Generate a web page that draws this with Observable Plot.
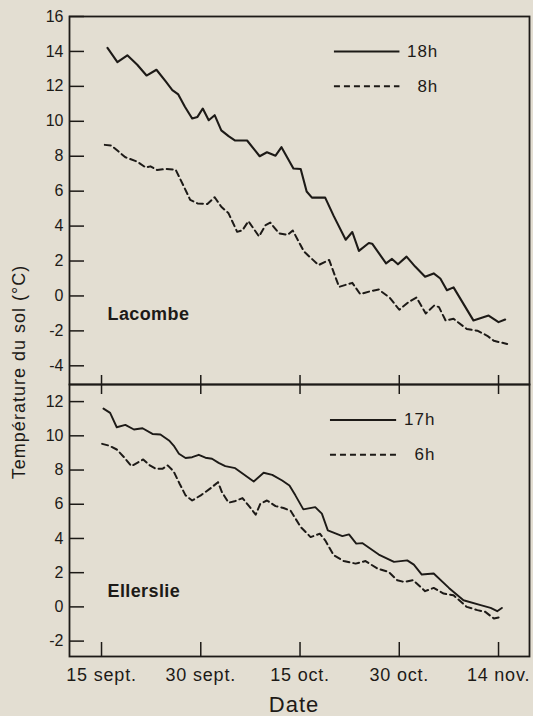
<!DOCTYPE html>
<html>
<head>
<meta charset="utf-8">
<script src="https://cdn.jsdelivr.net/npm/d3@7"></script>
<script src="https://cdn.jsdelivr.net/npm/@observablehq/plot@0.6"></script>
<style>
  html, body { margin: 0; padding: 0; background: #e3ded2; }
  #wrap { position: relative; width: 533px; height: 716px; background: #e3ded2; overflow: hidden;
          font-family: "Liberation Sans", Arial, Helvetica, sans-serif; color: #1d1a17; }
  #wrap svg { position: absolute; left: 0; }
  #bottomPanel g[aria-label="x-axis tick label"] text { letter-spacing: 0.8px; }
  .ann text { letter-spacing: 0.4px; }
  .leg text { letter-spacing: 1px; }
  .ytitle { position: absolute; left: 19px; top: 372px; transform: translate(-50%, -50%) rotate(-90deg);
            font-size: 18px; letter-spacing: 1px; white-space: nowrap; line-height: 1; }
  .xtitle { position: absolute; left: 294px; top: 694px; transform: translateX(-50%);
            font-size: 22px; letter-spacing: 1px; white-space: nowrap; line-height: 1; }
</style>
</head>
<body>
<div id="wrap">
  <div class="ytitle">Température du sol (°C)</div>
  <div class="xtitle">Date</div>
</div>
<script>
// ---- data (days counted from 15 Sept.) ----
const baseDate = "1981-09-15";
const xTickDays = [0, 15, 30, 45, 60];
const xTickLabels = ["15 sept.", "30 sept.", "15 oct.", "30 oct.", "14 nov."];
const topTicks = [-4, -2, 0, 2, 4, 6, 8, 10, 12, 14, 16];
const bottomTicks = [-2, 0, 2, 4, 6, 8, 10, 12];

// Lacombe 18h
const lacDays18 = [0.9, 2.4, 3.9, 5.4, 6.8, 8.3, 9.7, 10.7, 11.6, 12.6, 13.7, 14.5, 15.3, 16.2, 17.1, 18.1, 19.2, 20.2, 22.0, 23.9, 25.0, 26.3, 27.2, 29.0, 30.1, 31.0, 31.8, 33.8, 35.1, 36.9, 37.9, 38.9, 40.4, 40.9, 43.0, 43.9, 44.8, 46.1, 47.4, 48.9, 50.2, 51.2, 52.2, 53.2, 56.2, 58.5, 60.0, 61.0];
const lacTemp18 = [14.2, 13.39, 13.78, 13.24, 12.62, 12.95, 12.28, 11.79, 11.54, 10.83, 10.16, 10.25, 10.73, 10.06, 10.35, 9.48, 9.15, 8.9, 8.9, 8.0, 8.23, 8.03, 8.52, 7.3, 7.27, 5.98, 5.63, 5.63, 4.57, 3.22, 3.66, 2.58, 3.03, 2.99, 1.87, 2.12, 1.81, 2.25, 1.68, 1.1, 1.29, 1.0, 0.33, 0.49, -1.4, -1.12, -1.5, -1.35];
// Lacombe 8h
const lacDays8 = [0.5, 1.5, 3.6, 5.4, 6.7, 7.4, 8.4, 9.7, 11.2, 12.4, 13.4, 14.5, 16.0, 17.1, 18.1, 19.2, 20.5, 21.3, 22.2, 23.8, 24.8, 25.5, 26.8, 28.1, 28.9, 30.6, 32.8, 34.4, 35.9, 37.9, 39.1, 40.7, 41.9, 43.6, 45.0, 46.4, 47.6, 49.0, 50.3, 51.0, 52.0, 53.2, 55.2, 56.8, 58.3, 59.3, 61.3];
const lacTemp8 = [8.65, 8.61, 7.94, 7.69, 7.35, 7.42, 7.21, 7.27, 7.23, 6.3, 5.5, 5.3, 5.26, 5.65, 5.11, 4.73, 3.67, 3.76, 4.28, 3.41, 4.06, 4.2, 3.59, 3.49, 3.75, 2.54, 1.77, 2.06, 0.52, 0.75, 0.1, 0.28, 0.37, -0.12, -0.79, -0.35, -0.09, -1.0, -0.54, -0.64, -1.41, -1.31, -1.89, -1.99, -2.28, -2.57, -2.75];
// Ellerslie 17h
const ellDays17 = [0.3, 1.3, 2.3, 3.6, 4.9, 6.2, 7.7, 8.9, 10.2, 10.9, 11.7, 12.7, 13.7, 14.7, 15.7, 16.7, 17.7, 18.7, 20.2, 23.0, 24.5, 25.8, 27.3, 28.4, 29.3, 30.5, 32.3, 33.3, 34.2, 36.4, 37.4, 38.5, 39.4, 41.9, 44.2, 46.2, 47.2, 48.4, 50.2, 52.5, 54.7, 57.3, 58.8, 59.8, 60.5];
const ellTemp17 = [11.59, 11.34, 10.5, 10.64, 10.37, 10.44, 10.11, 10.08, 9.73, 9.43, 8.95, 8.7, 8.75, 8.89, 8.72, 8.66, 8.42, 8.23, 8.11, 7.33, 7.84, 7.72, 7.39, 7.1, 6.52, 5.7, 5.83, 5.45, 4.47, 4.14, 4.24, 3.7, 3.73, 3.06, 2.63, 2.72, 2.47, 1.89, 1.95, 1.11, 0.39, 0.1, -0.06, -0.25, -0.06];
// Ellerslie 6h
const ellDays6 = [0.1, 1.1, 2.3, 3.4, 4.5, 5.4, 6.3, 7.3, 8.2, 9.2, 10.0, 10.9, 11.8, 12.7, 13.7, 15.0, 16.4, 17.6, 18.2, 19.2, 20.1, 21.3, 22.3, 23.3, 24.0, 25.0, 26.3, 27.5, 28.6, 30.1, 31.6, 33.0, 33.8, 35.1, 36.6, 38.4, 39.9, 41.7, 43.4, 44.7, 45.7, 47.1, 48.9, 50.2, 51.7, 53.2, 55.2, 56.8, 58.0, 59.3, 60.5];
const ellTemp6 = [9.53, 9.43, 9.2, 8.75, 8.23, 8.42, 8.62, 8.27, 8.07, 8.07, 8.27, 7.92, 7.2, 6.52, 6.22, 6.52, 6.91, 7.29, 6.71, 6.09, 6.17, 6.36, 5.89, 5.39, 6.03, 6.22, 5.89, 5.78, 5.61, 4.67, 4.08, 4.28, 3.89, 3.02, 2.68, 2.53, 2.68, 2.24, 2.04, 1.56, 1.46, 1.56, 0.92, 1.11, 0.78, 0.68, 0.0, -0.19, -0.29, -0.68, -0.58];

const siteNames = ["Lacombe", "Ellerslie"];
const topLegend = ["18h", "8h"];
const bottomLegend = ["17h", "6h"];

// ---- helpers ----
const base = Date.parse(baseDate + "T00:00:00Z");
const toDate = d => new Date(base + d * 86400000);
const series = (days, temps) => days.map((d, i) => ({date: toDate(d), t: temps[i]}));
const tickDates = xTickDays.map(toDate);
const tickLabel = d => {
  const i = tickDates.findIndex(t => Math.abs(t - d) < 3600000);
  return i >= 0 ? xTickLabels[i] : "";
};
const ink = "#1d1a17";
const xDomain = [toDate(-4.84), toDate(64.68)];
const common = {
  width: 533, marginLeft: 69, marginRight: 4,
  style: {background: "transparent", overflow: "visible", fontFamily: "'Liberation Sans', Arial, sans-serif", color: ink},
};

const topPlot = Plot.plot({
  ...common,
  height: 384, marginTop: 16, marginBottom: 0,
  x: {type: "utc", domain: xDomain, label: null},
  y: {domain: [-5.07, 16], label: null},
  marks: [
    Plot.axisY({ticks: topTicks, tickSize: -15, tickPadding: 21, tickFormat: d => String(d), fontSize: 16, strokeWidth: 1.5, stroke: ink, fill: ink, label: null}),
    Plot.axisX({ticks: tickDates, anchor: "bottom", tickSize: -9, tickFormat: () => "", strokeWidth: 1.5, stroke: ink, label: null}),
    Plot.line(series(lacDays18, lacTemp18), {x: "date", y: "t", stroke: ink, strokeWidth: 2.1}),
    Plot.line(series(lacDays8, lacTemp8), {x: "date", y: "t", stroke: ink, strokeWidth: 2, strokeDasharray: "6,4"}),
    Plot.ruleY([{y: 14, x1: toDate(35.2), x2: toDate(45.1)}], {y: "y", x1: "x1", x2: "x2", stroke: ink, strokeWidth: 2}),
    Plot.ruleY([{y: 12, x1: toDate(35.2), x2: toDate(45.1)}], {y: "y", x1: "x1", x2: "x2", stroke: ink, strokeWidth: 2, strokeDasharray: "6,4"}),
    Plot.text([{y: 14, x: toDate(50.9), s: topLegend[0]}, {y: 12, x: toDate(50.9), s: topLegend[1]}],
      {x: "x", y: "y", text: "s", textAnchor: "end", fontSize: 17, fill: ink, className: "leg"}),
    Plot.text([{y: -1.05, x: toDate(0.9), s: siteNames[0]}], {x: "x", y: "y", text: "s", textAnchor: "start", fontSize: 18, fontWeight: "bold", fill: ink, className: "ann"}),
    Plot.frame({stroke: ink, strokeWidth: 1.8})
  ]
});

const bottomPlot = Plot.plot({
  ...common,
  height: 332, marginTop: 0, marginBottom: 60,
  x: {type: "utc", domain: xDomain, label: null},
  y: {domain: [-2.9, 13], label: null},
  marks: [
    Plot.axisY({ticks: bottomTicks, tickSize: -15, tickPadding: 21, tickFormat: d => String(d), fontSize: 16, strokeWidth: 1.5, stroke: ink, fill: ink, label: null}),
    Plot.axisX({ticks: tickDates, anchor: "top", tickSize: -9, tickFormat: () => "", strokeWidth: 1.5, stroke: ink, label: null}),
    Plot.axisX({ticks: tickDates, anchor: "bottom", tickSize: -14, tickPadding: 25.6, tickFormat: tickLabel, fontSize: 18, strokeWidth: 1.5, stroke: ink, fill: ink, label: null}),
    Plot.line(series(ellDays17, ellTemp17), {x: "date", y: "t", stroke: ink, strokeWidth: 1.9}),
    Plot.line(series(ellDays6, ellTemp6), {x: "date", y: "t", stroke: ink, strokeWidth: 2, strokeDasharray: "6,4"}),
    Plot.ruleY([{y: 10.93, x1: toDate(34.6), x2: toDate(44.6)}], {y: "y", x1: "x1", x2: "x2", stroke: ink, strokeWidth: 2}),
    Plot.ruleY([{y: 8.89, x1: toDate(34.6), x2: toDate(44.6)}], {y: "y", x1: "x1", x2: "x2", stroke: ink, strokeWidth: 2, strokeDasharray: "6,4"}),
    Plot.text([{y: 10.93, x: toDate(50.45), s: bottomLegend[0]}, {y: 8.89, x: toDate(50.45), s: bottomLegend[1]}],
      {x: "x", y: "y", text: "s", textAnchor: "end", fontSize: 17, fill: ink, className: "leg"}),
    Plot.text([{y: 0.93, x: toDate(0.9), s: siteNames[1]}], {x: "x", y: "y", text: "s", textAnchor: "start", fontSize: 18, fontWeight: "bold", fill: ink, className: "ann"}),
    Plot.frame({stroke: ink, strokeWidth: 1.8})
  ]
});

topPlot.id = "topPanel";
bottomPlot.id = "bottomPanel";
topPlot.style.top = "0px";
bottomPlot.style.top = "384px";
const wrap = document.getElementById("wrap");
wrap.appendChild(topPlot);
wrap.appendChild(bottomPlot);
</script>
</body>
</html>
